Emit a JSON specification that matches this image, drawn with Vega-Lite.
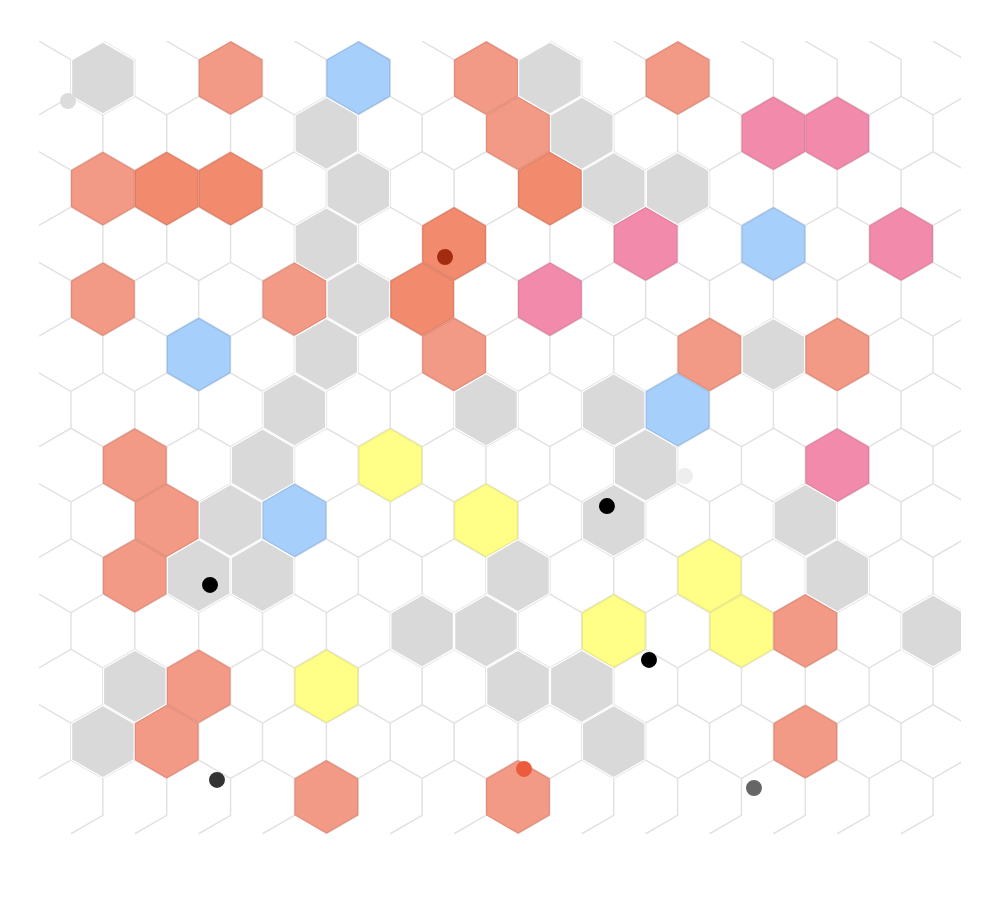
{
  "$schema": "https://vega.github.io/schema/vega-lite/v6.json",
  "width": 922,
  "height": 794,
  "autosize": {"type": "none"},
  "padding": {"left": 39, "top": 41, "right": 41, "bottom": 71},
  "background": "white",
  "config": {"view": {"stroke": null}},
  "datasets": {
    "mesh": [
      {"r": 0, "c": [0,1,2,3,4,5,6,7,8,9,10,11,12,13,14]},
      {"r": 1, "c": [0.5,1.5,2.5,3.5,4.5,5.5,6.5,7.5,8.5,9.5,10.5,11.5,12.5,13.5]},
      {"r": 2, "c": [0,1,2,3,4,5,6,7,8,9,10,11,12,13,14]},
      {"r": 3, "c": [0.5,1.5,2.5,3.5,4.5,5.5,6.5,7.5,8.5,9.5,10.5,11.5,12.5,13.5]},
      {"r": 4, "c": [0,1,2,3,4,5,6,7,8,9,10,11,12,13,14]},
      {"r": 5, "c": [0.5,1.5,2.5,3.5,4.5,5.5,6.5,7.5,8.5,9.5,10.5,11.5,12.5,13.5]},
      {"r": 6, "c": [0,1,2,3,4,5,6,7,8,9,10,11,12,13,14]},
      {"r": 7, "c": [0.5,1.5,2.5,3.5,4.5,5.5,6.5,7.5,8.5,9.5,10.5,11.5,12.5,13.5]},
      {"r": 8, "c": [0,1,2,3,4,5,6,7,8,9,10,11,12,13,14]},
      {"r": 9, "c": [0.5,1.5,2.5,3.5,4.5,5.5,6.5,7.5,8.5,9.5,10.5,11.5,12.5,13.5]},
      {"r": 10, "c": [0,1,2,3,4,5,6,7,8,9,10,11,12,13,14]},
      {"r": 11, "c": [0.5,1.5,2.5,3.5,4.5,5.5,6.5,7.5,8.5,9.5,10.5,11.5,12.5,13.5]},
      {"r": 12, "c": [0,1,2,3,4,5,6,7,8,9,10,11,12,13,14]},
      {"r": 13, "c": [0.5,1.5,2.5,3.5,4.5,5.5,6.5,7.5,8.5,9.5,10.5,11.5,12.5,13.5]}
    ],
    "hexes": [
      {"c": 1, "r": 0, "k": "gray"}, {"c": 3, "r": 0, "k": "orange"}, {"c": 5, "r": 0, "k": "blue"}, {"c": 7, "r": 0, "k": "orange"}, {"c": 8, "r": 0, "k": "gray"}, {"c": 10, "r": 0, "k": "orange"},
      {"c": 4.5, "r": 1, "k": "gray"}, {"c": 7.5, "r": 1, "k": "orange"}, {"c": 8.5, "r": 1, "k": "gray"}, {"c": 11.5, "r": 1, "k": "pink"}, {"c": 12.5, "r": 1, "k": "pink"},
      {"c": 1, "r": 2, "k": "orange"}, {"c": 2, "r": 2, "k": "orange2"}, {"c": 3, "r": 2, "k": "orange2"}, {"c": 5, "r": 2, "k": "gray"}, {"c": 8, "r": 2, "k": "orange2"}, {"c": 9, "r": 2, "k": "gray"}, {"c": 10, "r": 2, "k": "gray"},
      {"c": 4.5, "r": 3, "k": "gray"}, {"c": 6.5, "r": 3, "k": "orange2"}, {"c": 9.5, "r": 3, "k": "pink"}, {"c": 11.5, "r": 3, "k": "blue"}, {"c": 13.5, "r": 3, "k": "pink"},
      {"c": 1, "r": 4, "k": "orange"}, {"c": 4, "r": 4, "k": "orange"}, {"c": 5, "r": 4, "k": "gray"}, {"c": 6, "r": 4, "k": "orange2"}, {"c": 8, "r": 4, "k": "pink"},
      {"c": 2.5, "r": 5, "k": "blue"}, {"c": 4.5, "r": 5, "k": "gray"}, {"c": 6.5, "r": 5, "k": "orange"}, {"c": 10.5, "r": 5, "k": "orange"}, {"c": 11.5, "r": 5, "k": "gray"}, {"c": 12.5, "r": 5, "k": "orange"},
      {"c": 4, "r": 6, "k": "gray"}, {"c": 7, "r": 6, "k": "gray"}, {"c": 9, "r": 6, "k": "gray"}, {"c": 10, "r": 6, "k": "blue"},
      {"c": 1.5, "r": 7, "k": "orange"}, {"c": 3.5, "r": 7, "k": "gray"}, {"c": 5.5, "r": 7, "k": "yellow"}, {"c": 9.5, "r": 7, "k": "gray"}, {"c": 12.5, "r": 7, "k": "pink"},
      {"c": 2, "r": 8, "k": "orange"}, {"c": 3, "r": 8, "k": "gray"}, {"c": 4, "r": 8, "k": "blue"}, {"c": 7, "r": 8, "k": "yellow"}, {"c": 9, "r": 8, "k": "gray"}, {"c": 12, "r": 8, "k": "gray"},
      {"c": 1.5, "r": 9, "k": "orange"}, {"c": 2.5, "r": 9, "k": "gray"}, {"c": 3.5, "r": 9, "k": "gray"}, {"c": 7.5, "r": 9, "k": "gray"}, {"c": 10.5, "r": 9, "k": "yellow"}, {"c": 12.5, "r": 9, "k": "gray"},
      {"c": 6, "r": 10, "k": "gray"}, {"c": 7, "r": 10, "k": "gray"}, {"c": 9, "r": 10, "k": "yellow"}, {"c": 11, "r": 10, "k": "yellow"}, {"c": 12, "r": 10, "k": "orange"}, {"c": 14, "r": 10, "k": "gray"},
      {"c": 1.5, "r": 11, "k": "gray"}, {"c": 2.5, "r": 11, "k": "orange"}, {"c": 4.5, "r": 11, "k": "yellow"}, {"c": 7.5, "r": 11, "k": "gray"}, {"c": 8.5, "r": 11, "k": "gray"},
      {"c": 1, "r": 12, "k": "gray"}, {"c": 2, "r": 12, "k": "orange"}, {"c": 9, "r": 12, "k": "gray"}, {"c": 12, "r": 12, "k": "orange"},
      {"c": 4.5, "r": 13, "k": "orange"}, {"c": 7.5, "r": 13, "k": "orange"}
    ],
    "dots": [
      {"c": 0.454, "r": 0.416, "t": "a"},
      {"c": 6.358, "r": 3.237, "t": "b"},
      {"c": 8.894, "r": 7.740, "t": "c"},
      {"c": 10.116, "r": 7.197, "t": "d"},
      {"c": 2.678, "r": 9.168, "t": "c"},
      {"c": 9.552, "r": 10.524, "t": "c"},
      {"c": 2.787, "r": 12.694, "t": "e"},
      {"c": 7.595, "r": 12.495, "t": "f"},
      {"c": 11.196, "r": 12.839, "t": "g"}
    ]
  },
  "encoding": {
    "x": {"field": "c", "type": "quantitative", "scale": {"domain": [0, 14.438], "nice": false, "zero": false}, "axis": null},
    "y": {"field": "r", "type": "quantitative", "scale": {"domain": [-0.669, 13.689], "nice": false, "zero": false, "reverse": true}, "axis": null}
  },
  "layer": [
    {
      "data": {"name": "mesh"},
      "transform": [{"flatten": ["c"]}],
      "mark": {"type": "point", "shape": "M0,-1L0.866,-0.5L0.866,0.5L0,1", "filled": false, "size": 5437.6, "stroke": "#e2e2e2", "strokeWidth": 1.5, "opacity": 1, "clip": true}
    },
    {
      "data": {"name": "hexes"},
      "mark": {"type": "point", "shape": "M0,-1L0.866,-0.5L0.866,0.5L0,1L-0.866,0.5L-0.866,-0.5Z", "filled": true, "size": 5220, "strokeWidth": 1.2, "opacity": 1, "fillOpacity": 1, "strokeOpacity": 1, "clip": true},
      "encoding": {
        "fill": {"field": "k", "type": "nominal", "legend": null, "scale": {"domain": ["gray", "orange", "orange2", "blue", "pink", "yellow"], "range": ["#d9d9d9", "#f29a85", "#f28b6e", "#a6cffb", "#f28aab", "#ffff88"]}},
        "stroke": {"field": "k", "type": "nominal", "legend": null, "scale": {"domain": ["gray", "orange", "orange2", "blue", "pink", "yellow"], "range": ["#ffffff", "#e48a76", "#e07c61", "#95bde9", "#e27f9f", "#ecec80"]}}
      }
    },
    {
      "data": {"name": "dots"},
      "mark": {"type": "circle", "size": 254, "opacity": 1},
      "encoding": {
        "color": {"field": "t", "type": "nominal", "legend": null, "scale": {"domain": ["a", "b", "c", "d", "e", "f", "g"], "range": ["#dcdcdc", "#a32b0f", "#000000", "#eeeeee", "#333333", "#ec5b3b", "#666666"]}}
      }
    }
  ]
}
